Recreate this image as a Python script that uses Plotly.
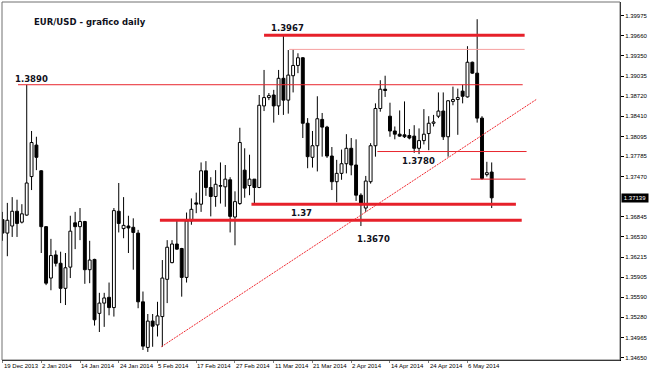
import plotly.graph_objects as go

# ---------------- data ----------------
tick_labels = ["19 Dec 2013", "2 Jan 2014", "14 Jan 2014", "24 Jan 2014", "5 Feb 2014",
               "17 Feb 2014", "27 Feb 2014", "11 Mar 2014", "21 Mar 2014", "2 Apr 2014",
               "14 Apr 2014", "24 Apr 2014", "6 May 2014"]
tick_bars = [0, 8, 16, 24, 32, 40, 48, 56, 64, 72, 80, 88, 96]

opens = [1.3680, 1.3659, 1.3670, 1.3693, 1.3676, 1.3687, 1.3747, 1.3796, 1.3756, 1.3669,
         1.3589, 1.3625, 1.3612, 1.3573, 1.3606, 1.3675, 1.3669, 1.3677, 1.3602, 1.3618,
         1.3534, 1.3550, 1.3559, 1.3543, 1.3693, 1.3666, 1.3670, 1.3668, 1.3659, 1.3552,
         1.3481, 1.3522, 1.3516, 1.3529, 1.3587, 1.3613, 1.3642, 1.3635, 1.3590, 1.3678,
         1.3706, 1.3704, 1.3756, 1.3730, 1.3716, 1.3733, 1.3731, 1.3742, 1.3684, 1.3705,
         1.3757, 1.3733, 1.3743, 1.3730, 1.3857, 1.3870, 1.3874, 1.3857, 1.3900, 1.3866,
         1.3904, 1.3920, 1.3932, 1.3830, 1.3777, 1.3795, 1.3836, 1.3824, 1.3779, 1.3739,
         1.3752, 1.3767, 1.3791, 1.3765, 1.3718, 1.3698, 1.3739, 1.3795, 1.3853, 1.3883,
         1.3841, 1.3818, 1.3813, 1.3812, 1.3811, 1.3810, 1.3791, 1.3803, 1.3814, 1.3830,
         1.3841, 1.3849, 1.3809, 1.3864, 1.3867, 1.3880, 1.3871, 1.3925, 1.3908, 1.3838,
         1.3750, 1.3754]
highs = [1.3692, 1.3706, 1.3715, 1.3711, 1.3704, 1.3890, 1.3818, 1.3809, 1.3757, 1.3670,
         1.3650, 1.3632, 1.3630, 1.3628, 1.3686, 1.3692, 1.3698, 1.3678, 1.3647, 1.3619,
         1.3566, 1.3566, 1.3582, 1.3698, 1.3737, 1.3715, 1.3686, 1.3682, 1.3664, 1.3568,
         1.3533, 1.3533, 1.3552, 1.3617, 1.3648, 1.3648, 1.3679, 1.3636, 1.3691, 1.3713,
         1.3722, 1.3769, 1.3771, 1.3746, 1.3757, 1.3769, 1.3765, 1.3746, 1.3724, 1.3823,
         1.3791, 1.3781, 1.3743, 1.3874, 1.3913, 1.3877, 1.3882, 1.3913, 1.3967, 1.3944,
         1.3945, 1.3939, 1.3933, 1.3838, 1.3818, 1.3872, 1.3846, 1.3826, 1.3793, 1.3773,
         1.3789, 1.3813, 1.3807, 1.3805, 1.3721, 1.3748, 1.3799, 1.3861, 1.3897, 1.3904,
         1.3862, 1.3825, 1.3850, 1.3864, 1.3821, 1.3827, 1.3822, 1.3852, 1.3841, 1.3843,
         1.3878, 1.3878, 1.3866, 1.3887, 1.3884, 1.3890, 1.3950, 1.3926, 1.3992, 1.3841,
         1.3770, 1.3769]
lows = [1.3647, 1.3623, 1.3653, 1.3653, 1.3674, 1.3686, 1.3726, 1.3757, 1.3628, 1.3578,
        1.3570, 1.3607, 1.3550, 1.3547, 1.3589, 1.3634, 1.3648, 1.3580, 1.3581, 1.3515,
        1.3505, 1.3513, 1.3531, 1.3529, 1.3660, 1.3651, 1.3628, 1.3602, 1.3542, 1.3477,
        1.3474, 1.3482, 1.3498, 1.3482, 1.3550, 1.3612, 1.3633, 1.3560, 1.3582, 1.3672,
        1.3690, 1.3692, 1.3717, 1.3685, 1.3700, 1.3705, 1.3700, 1.3660, 1.3640, 1.3703,
        1.3714, 1.3718, 1.3705, 1.3729, 1.3849, 1.3866, 1.3831, 1.3843, 1.3843, 1.3845,
        1.3878, 1.3908, 1.3807, 1.3760, 1.3761, 1.3755, 1.3778, 1.3776, 1.3726, 1.3707,
        1.3742, 1.3752, 1.3749, 1.3709, 1.3670, 1.3692, 1.3736, 1.3778, 1.3848, 1.3871,
        1.3809, 1.3805, 1.3809, 1.3807, 1.3805, 1.3784, 1.3782, 1.3797, 1.3788, 1.3825,
        1.3838, 1.3804, 1.3778, 1.3858, 1.3812, 1.3861, 1.3870, 1.3907, 1.3831, 1.3742,
        1.3747, 1.3698]
closes = [1.3659, 1.3679, 1.3693, 1.3674, 1.3689, 1.3737, 1.3800, 1.3777, 1.3669, 1.3581,
          1.3624, 1.3612, 1.3573, 1.3605, 1.3662, 1.3669, 1.3677, 1.3602, 1.3617, 1.3524,
          1.3550, 1.3558, 1.3543, 1.3694, 1.3674, 1.3671, 1.3667, 1.3660, 1.3552, 1.3483,
          1.3522, 1.3514, 1.3530, 1.3589, 1.3637, 1.3642, 1.3634, 1.3590, 1.3678, 1.3696,
          1.3704, 1.3756, 1.3730, 1.3716, 1.3735, 1.3732, 1.3743, 1.3685, 1.3708, 1.3800,
          1.3729, 1.3743, 1.3730, 1.3858, 1.3870, 1.3873, 1.3857, 1.3900, 1.3866, 1.3905,
          1.3920, 1.3932, 1.3830, 1.3778, 1.3795, 1.3837, 1.3824, 1.3779, 1.3739, 1.3752,
          1.3767, 1.3791, 1.3765, 1.3718, 1.3703, 1.3740, 1.3795, 1.3853, 1.3883, 1.3881,
          1.3818, 1.3813, 1.3810, 1.3809, 1.3807, 1.3791, 1.3803, 1.3813, 1.3830, 1.3832,
          1.3849, 1.3809, 1.3865, 1.3867, 1.3870, 1.3872, 1.3925, 1.3908, 1.3838, 1.3744,
          1.3753, 1.37139]

y_ticks = [1.34650, 1.34965, 1.35280, 1.35590, 1.35905, 1.36215, 1.36530, 1.36845,
           1.37470, 1.37785, 1.38095, 1.38410, 1.38720, 1.39035, 1.39350, 1.39660, 1.39975]

# drawn objects (price levels, bar spans)
thick_levels = [1.3967, 1.3704, 1.3679]
thick_start = [54.0, 51.4, 32.5]
thick_end = [107.8, 106.0, 107.2]
thin_levels = [1.3890, 1.3786, 1.3743]
thin_start = [3.2, 77.4, 96.7]
thin_end = [107.4, 108.2, 108.0]
pink_levels = [1.3945]
pink_start = [59.2]
pink_end = [107.8]
trend_x = [32.8, 110.2]
trend_y = [1.3482, 1.3867]

label_texts = ["1.3890", "1.3967", "1.3780", "1.37", "1.3670"]
label_x = [2.36, 55.28, 82.36, 59.38, 72.9]
label_y = [1.3899, 1.3978, 1.3771, 1.3690, 1.3650]
title_text = "EUR/USD - grafico daily"
last_price = "1.37139"

# ---------------- figure ----------------
bars = list(range(len(opens)))
up = [i for i in bars if closes[i] >= opens[i]]
dn = [i for i in bars if closes[i] < opens[i]]

fig = go.Figure()

wx, wy = [], []
for i in bars:
    top = max(opens[i], closes[i])
    bot = min(opens[i], closes[i])
    wx += [i, i, None, i, i, None]
    wy += [highs[i], top, None, bot, lows[i], None]
fig.add_trace(go.Scatter(x=wx, y=wy, mode="lines", line=dict(color="black", width=1),
                         hoverinfo="skip"))

fig.add_trace(go.Bar(x=up, base=[opens[i] for i in up],
                     y=[closes[i] - opens[i] for i in up], width=0.6,
                     marker=dict(color="white", line=dict(color="black", width=1)),
                     hoverinfo="skip"))
fig.add_trace(go.Bar(x=dn, base=[closes[i] for i in dn],
                     y=[opens[i] - closes[i] for i in dn], width=0.6,
                     marker=dict(color="black", line=dict(color="black", width=1)),
                     hoverinfo="skip"))

def add_levels(levels, starts, ends, color, width, dash="solid"):
    for lv, s, e in zip(levels, starts, ends):
        fig.add_trace(go.Scatter(x=[s, e], y=[lv, lv], mode="lines",
                                 line=dict(color=color, width=width, dash=dash),
                                 hoverinfo="skip"))

add_levels(pink_levels, pink_start, pink_end, "#f7a0a0", 1)
add_levels(thin_levels, thin_start, thin_end, "#e8262e", 1)
add_levels(thick_levels, thick_start, thick_end, "#e6202a", 3)
fig.add_trace(go.Scatter(x=trend_x, y=trend_y, mode="lines",
                         line=dict(color="#f02830", width=1, dash="2px,1px"), hoverinfo="skip"))

lab_font = dict(family="DejaVu Sans", size=8.5, color="#101020")
for t, lx, ly in zip(label_texts, label_x, label_y):
    fig.add_annotation(x=lx, y=ly, xref="x", yref="y", text="<b>%s</b>" % t,
                       showarrow=False, xanchor="left", yanchor="middle",
                       font=lab_font, borderpad=0)
fig.add_annotation(x=6.26, y=1.3988, xref="x", yref="y", text="<b>%s</b>" % title_text,
                   showarrow=False, xanchor="left", yanchor="middle", font=lab_font,
                   borderpad=0)

for t, b in zip(tick_labels, tick_bars):
    fig.add_annotation(x=b, y=0, xref="x", yref="paper", text=t, showarrow=False,
                       xanchor="left", yanchor="middle", yshift=-6, borderpad=0,
                       font=dict(family="Liberation Sans", size=6, color="black"))

fig.add_annotation(x=1, y=closes[-1], xref="paper", yref="y", text=last_price,
                   showarrow=False, xanchor="left", yanchor="middle", xshift=1,
                   bgcolor="black", font=dict(family="Liberation Sans", size=6, color="white"),
                   borderpad=1, width=24)

fig.add_shape(type="rect", xref="paper", yref="paper", x0=0, y0=0, x1=1, y1=1,
              line=dict(color="#707070", width=1), layer="above")

fig.update_layout(
    width=650, height=371, autosize=False,
    margin=dict(l=2, r=26, t=2, b=11),
    paper_bgcolor="white", plot_bgcolor="white",
    showlegend=False, barmode="overlay", hovermode=False,
    xaxis=dict(range=[-0.103, 127.49], tickvals=tick_bars, showticklabels=False,
               ticks="outside", ticklen=2, tickcolor="#808080", showgrid=False,
               zeroline=False, showline=True, linecolor="black", linewidth=1),
    yaxis=dict(range=[1.34614, 1.40188], side="right", tickvals=y_ticks,
               ticktext=["%.5f" % v for v in y_ticks], ticks="outside", ticklen=3,
               tickcolor="black", tickfont=dict(family="Liberation Sans", size=6, color="black"),
               showgrid=False, zeroline=False, showline=True, linecolor="black", linewidth=1),
)

fig.write_html("out.html")
